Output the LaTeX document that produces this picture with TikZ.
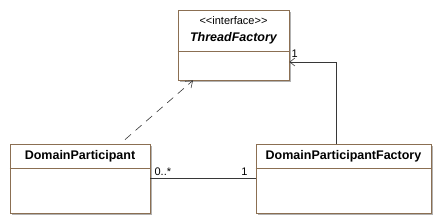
\documentclass[tikz,border=0pt]{standalone}
\usepackage{fontspec}
\setmainfont{Liberation Sans}
\usetikzlibrary{arrows.meta,shadows}
\definecolor{umlbrown}{RGB}{139,111,82}
\definecolor{umlline}{RGB}{55,55,55}
\begin{document}
\begin{tikzpicture}[x=1pt,y=-1pt,
        umlclass/.style={draw=umlbrown, fill=white, line width=0.8pt, inner sep=0pt,
            drop shadow={shadow xshift=2pt, shadow yshift=-2pt, fill=black!30, opacity=1}},
        classname/.style={font=\fontsize{12.5}{14}\selectfont\bfseries, inner sep=0pt},
        smalltext/.style={font=\fontsize{11}{13}\selectfont, inner sep=0pt},
        divider/.style={draw=umlbrown, line width=0.8pt},
        assoc/.style={draw=umlline, line width=0.6pt}]
        \useasboundingbox (0,0) rectangle (440,224);
        % the three classes
        \node[umlclass, minimum width=111pt, minimum height=70pt] (tf) at (233.5,45) {};
        \node[umlclass, minimum width=140pt, minimum height=69pt] (dp) at (80,178.5) {};
        \node[umlclass, minimum width=175pt, minimum height=69pt] (dpf) at (343.5,178.5) {};
        \draw[divider] ([yshift=-42pt]tf.north west) -- ([yshift=-42pt]tf.north east);
        \draw[divider] ([yshift=-25pt]dp.north west) -- ([yshift=-25pt]dp.north east);
        \draw[divider] ([yshift=-25pt]dpf.north west) -- ([yshift=-25pt]dpf.north east);
        \node[smalltext] (tfstereo) at ([yshift=-11pt]tf.north) {<{}<interface>{}>};
        \node[classname, font=\fontsize{12.5}{14}\selectfont\bfseries\itshape] (tfname) at ([yshift=-29pt]tf.north) {ThreadFactory};
        \node[classname] (dpname) at ([yshift=-12.5pt]dp.north) {DomainParticipant};
        \node[classname] (dpfname) at ([yshift=-12.5pt]dpf.north) {DomainParticipantFactory};
        % dependency
        \coordinate (depstart) at ([xshift=45pt, yshift=4pt]dp.north);
        \draw[assoc, dash pattern=on 8pt off 6pt, -{Straight Barb[length=6pt,width=9pt]}]
            (depstart) -- ([xshift=-40.5pt]tf.south);
        % associations
        \draw[assoc, -{Straight Barb[length=5pt,width=8pt]}]
            ([xshift=-7.5pt]dpf.north) |- ([yshift=-17pt]tf.east);
        \node[smalltext, anchor=south west] (tfmult) at ([xshift=2pt, yshift=-13pt]tf.east) {1};
        \draw[assoc] (dp.east) -- (dpf.west);
        \node[smalltext, anchor=south west] (dpmult) at ([xshift=4pt, yshift=3pt]dp.east) {0..*};
        \node[smalltext, anchor=south east] (dpfmult) at ([xshift=-8pt, yshift=3pt]dpf.west) {1};
    \end{tikzpicture}
\end{document}
